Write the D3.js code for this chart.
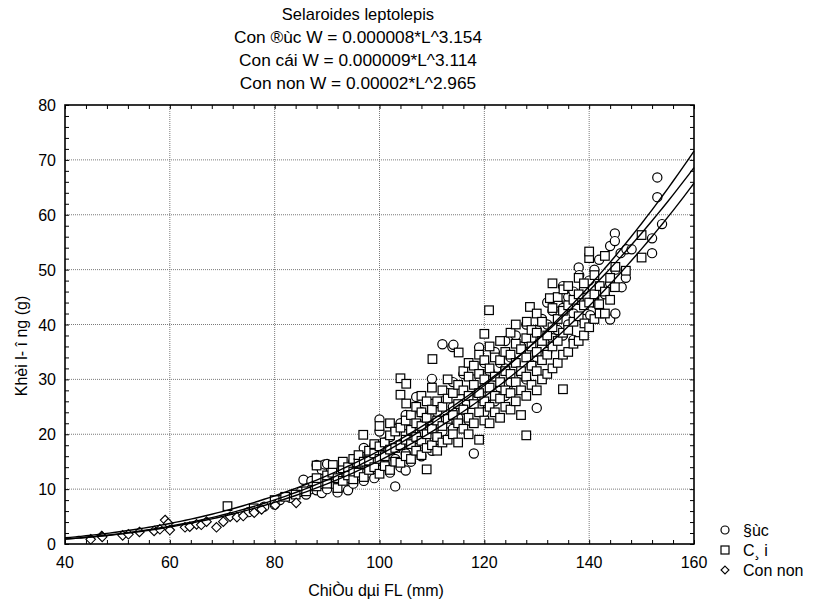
<!DOCTYPE html>
<html><head><meta charset="utf-8">
<script src="https://cdn.jsdelivr.net/npm/d3@7"></script>
<style>
body{margin:0;background:#fff;}
text{font-family:"Liberation Sans",Arial,sans-serif;fill:#000;}
</style></head>
<body>
<svg id="chart" width="815" height="607"></svg>
<script>
const titleLines = ["Selaroides leptolepis","Con ®ùc W = 0.000008*L^3.154","Con cái W = 0.000009*L^3.114","Con non W = 0.00002*L^2.965"];
const xTitle = "ChiÒu dµi FL (mm)";
const yTitle = "Khèi l- î ng (g)";
const legendLabels = ["§ùc","C¸ i","Con non"];
const xTicks = [40,60,80,100,120,140,160];
const yTicks = [0,10,20,30,40,50,60,70,80];
const coefA = [0.000008,0.000009,0.00002];
const coefB = [3.154,3.114,2.965];

// male (circles): [L, W]
const maleData = [
[75,5.8],[78,6.8],[80,7.2],[81,8.0],[83,8.4],[85,9.5],[85.5,11.7],[86,9.0],[87,10.0],[87,11.5],
[88,14.4],[88,9.8],[89,9.3],[89,13.5],[89.5,14.5],[90,10.0],[90,14.6],[91,11.0],[92,9.4],[92,12.5],
[93,10.5],[93,14.0],[94,12.0],[94,9.8],[95,11.0],[95,13.5],[95,15.0],[96,12.5],[96,16.0],[97,11.5],
[97,14.5],[97,17.5],[98,13.0],[98,16.5],[99,12.0],[99,15.0],[99,18.0],[100,13.5],[100,17.0],[100,20.5],
[100,22.7],[101,14.5],[101,18.5],[102,13.0],[102,16.5],[102,19.5],[103,10.5],[103,15.5],[103,21.0],[104,14.0],
[104,18.0],[104,22.0],[105,13.4],[105,16.5],[105,20.0],[105,23.5],[106,15.0],[106,19.0],[107,17.5],[107,21.0],
[107,26.8],[108,16.0],[108,20.0],[108,24.0],[109,18.5],[109,22.5],[110,17.0],[110,21.5],[110,25.5],[110,30.1],
[111,19.0],[111,24.0],[112,20.5],[112,26.0],[112,36.4],[113,22.0],[113,27.5],[114,21.0],[114,25.0],[114,29.5],
[113.9,35.9],[114.1,36.3],[115,23.0],[115,28.0],[116,24.5],[116,31.0],[117,22.5],[117,27.0],[118,16.5],[118,26.0],
[118,30.0],[119,25.0],[119,29.5],[119,35.8],[120,24.0],[120,28.5],[120,33.0],[121,27.0],[121,31.5],[122,26.0],
[122,30.5],[122,35.0],[123,28.5],[123,33.0],[124,27.0],[124,32.0],[124,37.0],[125,29.5],[125,34.0],[126,28.0],
[126,33.0],[126,38.0],[127,31.0],[127,36.0],[128,30.0],[128,35.0],[128,40.0],[129,32.5],[129,37.5],[130,24.8],
[130,34.0],[130,39.0],[131,36.0],[131,41.0],[132,35.0],[132,40.0],[132,44.0],[133,37.5],[133,42.5],[134,39.0],
[134,44.0],[135,38.0],[135,43.0],[135,47.0],[136,40.0],[136,45.0],[137,37.2],[137,42.0],[137,46.0],[138,50.4],
[138.1,49.0],[138,44.5],[139,41.0],[139,46.5],[140.2,41.7],[140,48.0],[141,50.0],[141,44.0],[141.9,51.8],[142,47.0],
[143,45.5],[144,54.3],[144,40.9],[144,47.5],[144.9,56.6],[144.9,55.2],[145,42.0],[145,50.0],[146.2,46.8],[146,53.0],
[147.1,53.7],[147,48.5],[148.1,53.7],[152,55.7],[152,53.0],[153,66.8],[153,63.2],[153.9,58.3]
];
// female (squares)
const femaleData = [
[71,6.9],[76,6.5],[80,8.0],[82,8.6],[84,9.0],[86,9.6],
[88,10.5],[88,12.0],[88,14.3],[90,11.0],[90,12.5],[91.1,14.4],[91,13.0],[92,10.2],[92,12.0],[93,11.5],
[93,13.8],[93,15.0],[94,12.5],[94,14.0],[95,11.8],[95,13.2],[95,15.5],[96,13.0],[96,14.8],[96,16.2],
[97,12.2],[97,15.0],[96.9,19.9],[98,13.5],[98,15.2],[98,17.0],[99,14.0],[99,16.5],[99,18.2],[100,12.8],
[100,15.5],[100,17.8],[100,21.5],[101,14.2],[101,16.0],[101,18.5],[102,13.5],[102,17.2],[102,19.8],[102,22.0],
[103,15.0],[103,17.5],[103,20.5],[104,14.8],[104,18.0],[104,21.2],[104,27.2],[104,30.2],[105,16.0],[105,19.0],
[105,22.5],[105.1,25.6],[105.1,29.2],[106,15.5],[106,18.2],[106,20.8],[106,23.5],[107,17.0],[107,19.5],[107,22.0],
[107,25.0],[108,16.2],[108,18.8],[108,21.5],[108,24.0],[108,27.0],[109,13.6],[109,17.5],[109,20.0],[109,23.0],
[109,26.0],[110,18.0],[110,21.0],[110,24.5],[110,28.5],[110.1,33.7],[111,17.0],[111,19.5],[111,22.5],[111,26.0],
[112,18.5],[112,21.5],[112,25.0],[112,28.0],[113,19.0],[113,22.8],[113,26.5],[113,30.0],[114,20.0],[114,23.5],
[114,27.5],[115,18.5],[115,22.0],[115,25.5],[115,29.0],[115.1,34.9],[116,21.0],[116,24.5],[116,28.0],[116,31.5],
[117,20.0],[117,23.0],[117,27.0],[117,30.5],[117,33.0],[118,22.0],[118,25.5],[118,29.0],[118,32.5],[119,19.0],
[119,24.0],[119,27.5],[119,31.0],[119,34.5],[120,22.5],[120,26.0],[120,30.0],[120,33.5],[120,38.3],[121,22.0],
[121,25.0],[121,28.5],[121,32.0],[121,36.0],[120.9,42.6],[122,24.0],[122,27.0],[122,30.5],[122,34.0],[123,23.0],
[123,26.5],[123,29.5],[123,33.5],[123,37.0],[124,25.0],[124,28.0],[124,31.5],[124,35.0],[125,24.5],[125,27.5],
[125,31.0],[125,34.5],[125,38.5],[126,26.0],[126,29.5],[126,33.0],[126,36.5],[126,40.0],[127,23.5],[127,28.0],
[127,31.5],[127,35.5],[128,19.8],[128,27.0],[128,30.5],[128,34.0],[128,37.5],[128.1,40.5],[128.7,43.2],[129,29.0],
[129,32.5],[129,36.0],[129,39.0],[130,28.0],[130,31.5],[130,35.0],[130,38.5],[130,42.0],[131,30.0],[131,33.5],
[131,37.0],[131,40.5],[132,31.0],[132,34.5],[132,38.0],[132.5,44.8],[133,32.0],[133,36.0],[133,39.5],[133,43.0],
[133,47.5],[134,33.0],[134,37.0],[134,41.0],[134,45.0],[135,28.2],[135,34.5],[135,38.5],[135,42.5],[135.1,46.4],
[136,35.0],[136,39.0],[136,43.5],[136,47.0],[137,36.5],[137,40.5],[137,44.5],[138,37.0],[138,41.5],[138,45.5],
[138,48.5],[139.1,40.2],[139,38.0],[139,43.5],[139,47.5],[140,39.5],[140,44.0],[140,52.1],[140,53.3],[141,41.0],
[141,45.5],[141,49.0],[141.9,43.7],[142,42.0],[142,47.0],[143,42.0],[143,46.0],[143,52.5],[144,44.5],[144,48.5],
[144.9,46.8],[145,50.5],[147,49.8],[150,52.2],[150,56.3]
];
// juvenile (diamonds)
const juvenileData = [
[44.9,0.86],[47.0,1.46],[47.1,1.3],[51.0,1.58],[52.1,1.77],[54.2,2.19],[57.0,2.37],[58.1,2.68],[59.1,4.37],
[59.7,3.77],[60.0,2.55],[62.9,3.04],[63.8,3.15],[65.1,3.58],[66.0,3.5],[67.0,4.07],[68.9,3.04],[70.2,4.07],
[71.5,4.98],[72.8,4.9],[74.0,5.1],[76.1,5.7],[77.5,6.3],[80.1,7.1],[84.1,7.5]
];

const svg = d3.select("#chart");
const m = {left:65, right:694, top:105, bottom:544};
const x = d3.scaleLinear().domain([40,160]).range([m.left,m.right]);
const y = d3.scaleLinear().domain([0,80]).range([m.bottom,m.top]);

// grid
const grid = svg.append("g");
grid.selectAll(".gx").data(xTicks.slice(1,-1)).enter().append("line")
  .attr("x1",d=>x(d)).attr("x2",d=>x(d)).attr("y1",m.top).attr("y2",m.bottom)
  .attr("stroke","#7a7a7a").attr("stroke-width",1).attr("stroke-dasharray","1,1");
grid.selectAll(".gy").data(yTicks.slice(1,-1)).enter().append("line")
  .attr("y1",d=>y(d)).attr("y2",d=>y(d)).attr("x1",m.left).attr("x2",m.right)
  .attr("stroke","#7a7a7a").attr("stroke-width",1).attr("stroke-dasharray","1,1");

// axes with ticks
const xMinor = d3.range(40,161,4);
const yMinor = d3.range(0,81,2);
const axB = d3.axisBottom(x).tickValues(xMinor).tickSize(-4).tickFormat("");
const axT = d3.axisTop(x).tickValues(xMinor).tickSize(-4).tickFormat("");
const axL = d3.axisLeft(y).tickValues(yMinor).tickSize(-4).tickFormat("");
const axR = d3.axisRight(y).tickValues(yMinor).tickSize(-4).tickFormat("");
const gB = svg.append("g").attr("transform",`translate(0,${m.bottom})`).call(axB);
const gT = svg.append("g").attr("transform",`translate(0,${m.top})`).call(axT);
const gL = svg.append("g").attr("transform",`translate(${m.left},0)`).call(axL);
const gR = svg.append("g").attr("transform",`translate(${m.right},0)`).call(axR);
[gB,gT,gL,gR].forEach(g=>{g.select(".domain").remove(); g.selectAll("line").attr("stroke","#000").attr("stroke-width",1);});

// tick labels
svg.append("g").selectAll("text").data(xTicks).enter().append("text")
  .attr("x",d=>x(d)).attr("y",568).attr("text-anchor","middle").attr("font-size",16).text(d=>d);
svg.append("g").selectAll("text").data(yTicks).enter().append("text")
  .attr("x",56).attr("y",d=>y(d)+6).attr("text-anchor","end").attr("font-size",16).text(d=>d);

// markers
const pts = svg.append("g");
pts.selectAll(".c").data(maleData).enter().append("circle")
  .attr("cx",d=>x(d[0])).attr("cy",d=>y(d[1])).attr("r",4.6)
  .attr("fill","#fff").attr("stroke","#000").attr("stroke-width",1.2);
pts.selectAll(".s").data(femaleData).enter().append("rect")
  .attr("x",d=>x(d[0])-4.3).attr("y",d=>y(d[1])-4.3).attr("width",8.6).attr("height",8.6)
  .attr("fill","#fff").attr("stroke","#000").attr("stroke-width",1.2);
const diamond = d3.symbol().type(d3.symbolDiamond2).size(58);
pts.selectAll(".d").data(juvenileData).enter().append("path")
  .attr("d",diamond).attr("transform",d=>`translate(${x(d[0])},${y(d[1])})`)
  .attr("fill","#fff").attr("stroke","#000").attr("stroke-width",1.1);

// fitted curves
const Ls = d3.range(40,160.01,1);
const line = d3.line().x(d=>x(d[0])).y(d=>y(d[1])).curve(d3.curveMonotoneX);
coefA.forEach((a,i)=>{
  svg.append("path").datum(Ls.map(L=>[L,a*Math.pow(L,coefB[i])]))
    .attr("d",line).attr("fill","none").attr("stroke","#000").attr("stroke-width",1.4);
});

// frame
svg.append("rect").attr("x",m.left).attr("y",m.top).attr("width",m.right-m.left).attr("height",m.bottom-m.top)
  .attr("fill","none").attr("stroke","#000").attr("stroke-width",1.6);

// titles
svg.append("g").selectAll("text").data(titleLines).enter().append("text")
  .attr("x",358).attr("y",(d,i)=>20+i*23).attr("text-anchor","middle")
  .attr("font-size",(d,i)=>i===0?16.5:17.3).text(d=>d);
svg.append("text").attr("x",376).attr("y",596).attr("text-anchor","middle").attr("font-size",16).text(xTitle);
svg.append("text").attr("transform","translate(27,346) rotate(-90)").attr("text-anchor","middle").attr("font-size",16).text(yTitle);

// legend
const lg = svg.append("g");
const ly = [530,550,570];
lg.append("circle").attr("cx",725).attr("cy",ly[0]).attr("r",4).attr("fill","#fff").attr("stroke","#000").attr("stroke-width",1.2);
lg.append("rect").attr("x",721).attr("y",ly[1]-4).attr("width",8).attr("height",8).attr("fill","#fff").attr("stroke","#000").attr("stroke-width",1.2);
lg.append("path").attr("d",d3.symbol().type(d3.symbolDiamond2).size(40)).attr("transform",`translate(725,${ly[2]})`).attr("fill","#fff").attr("stroke","#000").attr("stroke-width",1.1);
lg.selectAll("text").data(legendLabels).enter().append("text")
  .attr("x",743).attr("y",(d,i)=>ly[i]+6).attr("font-size",16).text(d=>d);
</script>
</body></html>
